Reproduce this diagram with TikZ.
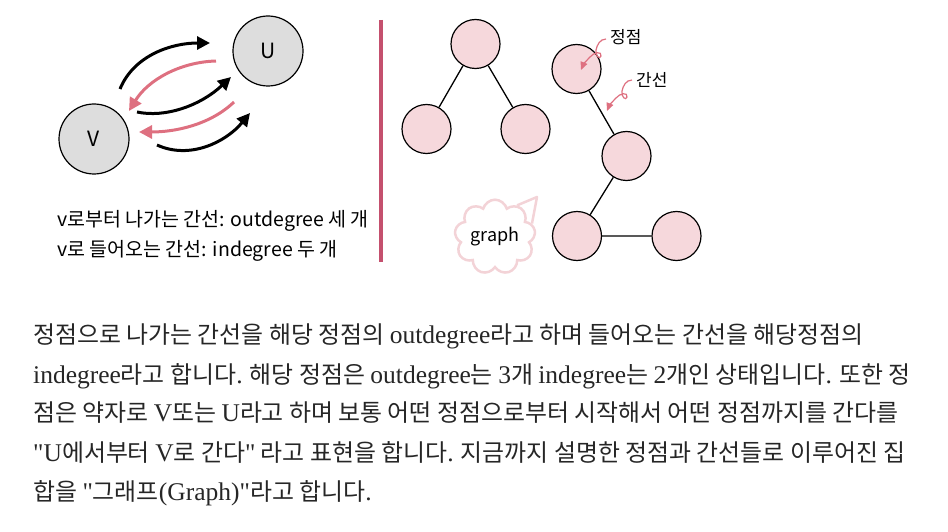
\documentclass[tikz,border=0pt]{standalone}
\usepackage{fontspec}
\setmainfont{Liberation Serif}[Ligatures=TeXOff]
\newfontfamily\kr{Noto Sans CJK KR}
\usetikzlibrary{shapes.symbols, positioning, arrows.meta}
\usepackage{color}
\definecolor{vgray}{RGB}{221, 221, 221}
\definecolor{arrowpink}{RGB}{222, 112, 128}
\definecolor{barpink}{RGB}{196, 80, 110}
\definecolor{nodepink}{RGB}{246, 216, 220}
\definecolor{cloudpink}{RGB}{243, 211, 215}
\definecolor{bodytext}{RGB}{38, 38, 38}
\newcommand{\lat}[1]{{\rmfamily\fontsize{25.5}{25.5}\selectfont #1}}

\begin{document}
\begin{tikzpicture}[x=1pt, y=-1pt, >={Triangle[length=13pt, width=13pt]},
    every node/.style={inner sep=0pt},
    vnode/.style={draw, circle, fill=vgray, minimum size=70pt, line width=1.2pt, font=\kr\fontsize{21}{21}\selectfont},
    gnode/.style={draw, circle, fill=nodepink, minimum size=49pt, line width=1.2pt},
    hand/.style={font=\kr\fontsize{19.5}{19.5}\selectfont, anchor=base west},
    para/.style={font=\kr\fontsize{23.9}{23.9}\selectfont, text=bodytext, anchor=base west}]
\useasboundingbox (0,0) rectangle (948,532);

% V and U with their arcs
\node[vnode] (v) at (94,139) {V};
\node[vnode] (u) at (268,51) {U};
\coordinate (out1s) at (120,89);  \coordinate (out1e) at (210,43);
\coordinate (in1s)  at (216,61);  \coordinate (in1e)  at (129,111);
\coordinate (out2s) at (137,112); \coordinate (out2e) at (231,77);
\coordinate (in2s)  at (234,102); \coordinate (in2e)  at (139,132);
\coordinate (out3s) at (157,145); \coordinate (out3e) at (250,113);
\draw[->, line width=3pt] (out1s) .. controls (134,55) and (172,43) .. (out1e);
\draw[->, line width=3pt, arrowpink] (in1s) .. controls (180,62) and (148,80) .. (in1e);
\draw[->, line width=3pt] (out2s) .. controls (165,118) and (200,106) .. (out2e);
\draw[->, line width=3pt, arrowpink] (in2s) .. controls (210,125) and (175,132) .. (in2e);
\draw[->, line width=3pt] (out3s) .. controls (190,160) and (226,142) .. (out3e);

\node[hand] (outtxt) at (57,226) {v로부터 나가는 간선: outdegree 세 개};
\node[hand] (intxt) at (57,256) {v로 들어오는 간선: indegree 두 개};

% separator
\coordinate (bartop) at (381,20);
\coordinate (barbot) at (381,262);
\draw[barpink, line width=4pt] (bartop) -- (barbot);

% graph
\node[gnode] (r) at (475.5,44) {};
\node[gnode] (rl) at (426.5,129) {};
\node[gnode] (rr) at (525.5,129) {};
\node[gnode] (p1) at (576.5,69) {};
\node[gnode] (p2) at (626.5,156) {};
\node[gnode] (p3) at (577,236) {};
\node[gnode] (p4) at (676.5,236) {};
\draw[line width=1.3pt] (r) -- (rl) (r) -- (rr) (p1) -- (p2) -- (p3) -- (p4);

\node[font=\kr\fontsize{17}{17}\selectfont, anchor=west] (vtxlbl) at (610,37) {정점};
\node[font=\kr\fontsize{17}{17}\selectfont, anchor=west] (edglbl) at (636,80) {간선};
\coordinate (c1s) at (606,39); \coordinate (c1e) at (581,70);
\coordinate (c2s) at (632,80); \coordinate (c2e) at (607,111);
\draw[-{Triangle[length=8pt, width=7pt]}, arrowpink, line width=1.2pt]
  (c1s) .. controls (600,39) and (597,45) .. (596,50)
  .. controls (595,56) and (600,60) .. (601,56)
  .. controls (602,51) and (594,52) .. (590,57)
  .. controls (586,61) and (583,65) .. (c1e);
\draw[-{Triangle[length=8pt, width=7pt]}, arrowpink, line width=1.2pt]
  (c2s) .. controls (626,80) and (623,86) .. (622,91)
  .. controls (621,97) and (626,101) .. (627,97)
  .. controls (628,92) and (620,93) .. (616,98)
  .. controls (612,102) and (609,106) .. (c2e);

\node[cloud, cloud puffs=9, aspect=1.15, draw=cloudpink, line width=2.5pt, minimum width=80pt, minimum height=72pt,
  font=\kr\fontsize{18}{18}\selectfont] (cl) at (495,237) {graph};
\coordinate (tail) at (537,197);
\draw[cloudpink, line width=2.5pt, line join=round] (cl.20) -- (tail) -- (cl.55);

% text
\node[para] (l1) at (33,343) {정점으로 나가는 간선을 해당 정점의 \lat{outdegree}라고 하며 들어오는 간선을 해당정점의};
\node[para] (l2) at (33,383) {\lat{indegree}라고 합니다\lat{.} 해당 정점은 \lat{outdegree}는 \lat{3}개 \lat{indegree}는 \lat{2}개인 상태입니다\lat{.} 또한 정};
\node[para] (l3) at (33,421) {점은 약자로 \lat{V}또는 \lat{U}라고 하며 보통 어떤 정점으로부터 시작해서 어떤 정점까지를 간다를};
\node[para] (l4) at (33,461) {\lat{"U}에서부터 \lat{V}로 간다\lat{"} 라고 표현을 합니다\lat{.} 지금까지 설명한 정점과 간선들로 이루어진 집};
\node[para] (l5) at (33,500) {합을 \lat{"}그래프\lat{(Graph)"}라고 합니다\lat{.}};
\end{tikzpicture}
\end{document}
